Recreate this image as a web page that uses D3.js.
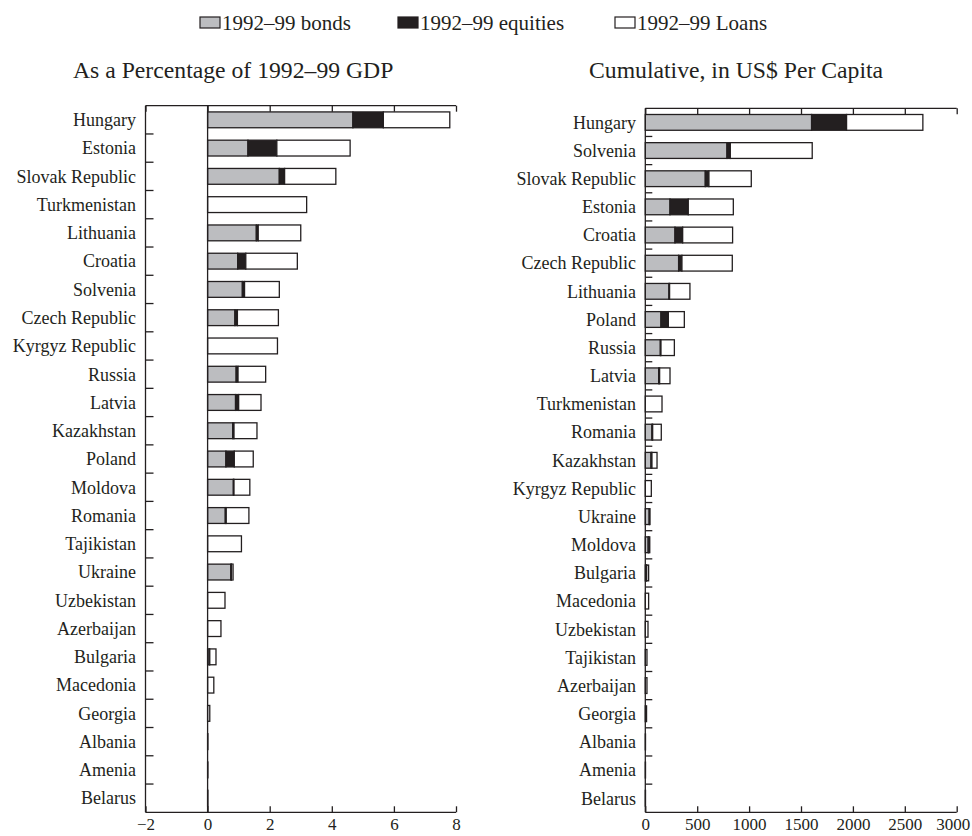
<!DOCTYPE html>
<html>
<head>
<meta charset="utf-8">
<script src="https://cdn.jsdelivr.net/npm/d3@7/dist/d3.min.js"></script>
<style>
  html, body { margin: 0; padding: 0; background: #fff; }
  svg { display: block; }
  text { font-family: "Liberation Serif", "Times New Roman", serif; fill: #231f20; }
</style>
</head>
<body>
<svg id="chart" width="972" height="836"></svg>
<script>
// ---------- DATA ----------
const seriesNames = ["1992\u201399 bonds", "1992\u201399 equities", "1992\u201399 Loans"];
const seriesColors = ["#bcbdc0", "#231f20", "#ffffff"];

// Panel 1: As a percentage of 1992-99 GDP
const gdpCountries = ["Hungary","Estonia","Slovak Republic","Turkmenistan","Lithuania","Croatia","Solvenia","Czech Republic","Kyrgyz Republic","Russia","Latvia","Kazakhstan","Poland","Moldova","Romania","Tajikistan","Ukraine","Uzbekistan","Azerbaijan","Bulgaria","Macedonia","Georgia","Albania","Amenia","Belarus"];
const gdpBonds    = [4.68,1.30,2.31,0,1.57,0.97,1.12,0.88,0,0.92,0.90,0.81,0.59,0.83,0.57,0,0.75,0,0,0.05,0,0,0,0,0];
const gdpEquities = [0.98,0.93,0.17,0,0.06,0.26,0.07,0.08,0,0.06,0.10,0.04,0.27,0.02,0.03,0,0.02,0,0,0.02,0,0,0,0,0];
const gdpLoans    = [2.14,2.36,1.65,3.19,1.37,1.66,1.12,1.32,2.25,0.89,0.72,0.74,0.61,0.51,0.73,1.09,0.05,0.56,0.43,0.20,0.20,0.07,0.01,0.01,0.01];
const gdpTicks = [-2,0,2,4,6,8];

// Panel 2: Cumulative, in US$ per capita
const pcCountries = ["Hungary","Solvenia","Slovak Republic","Estonia","Croatia","Czech Republic","Lithuania","Poland","Russia","Latvia","Turkmenistan","Romania","Kazakhstan","Kyrgyz Republic","Ukraine","Moldova","Bulgaria","Macedonia","Uzbekistan","Tajikistan","Azerbaijan","Georgia","Albania","Amenia","Belarus"];
const pcBonds    = [1602,787,578,238,286,321,228,151,145,129,0,64,55,0,38,28,10,0,0,0,0,0,0,0,0];
const pcEquities = [337,32,35,176,74,32,6,71,6,9,0,7,9,0,2,6,3,0,0,0,0,0,0,0,0];
const pcLoans    = [735,789,408,434,481,485,196,154,129,100,161,83,49,58,5,9,19,32,26,16,16,12,2,2,2];
const pcTicks = [0,500,1000,1500,2000,2500,3000];

// ---------- DRAW ----------
const svg = d3.select("#chart");
const ink = "#231f20";

// Legend
const legendItems = [
  {name: seriesNames[0], color: seriesColors[0], x: 200},
  {name: seriesNames[1], color: seriesColors[1], x: 398},
  {name: seriesNames[2], color: seriesColors[2], x: 615}
];
const lg = svg.append("g");
legendItems.forEach(it => {
  lg.append("rect").attr("x", it.x).attr("y", 17).attr("width", 20).attr("height", 11)
    .attr("fill", it.color).attr("stroke", ink).attr("stroke-width", 1.2);
  lg.append("text").attr("x", it.x + 22).attr("y", 30).attr("font-size", 21).text(it.name);
});

function drawPanel(cfg) {
  const g = svg.append("g");
  const x = d3.scaleLinear().domain(cfg.domain).range([cfg.x0, cfg.x1]);
  const y = d3.scaleBand().domain(cfg.countries).range([cfg.top, cfg.bottom]).paddingInner(0.44).paddingOuter(0.22);
  const rowH = (cfg.bottom - cfg.top) / cfg.countries.length;

  // Title
  g.append("text").attr("x", cfg.titleX).attr("y", 78).attr("font-size", 23.7).text(cfg.title);

  // stacked data
  const rows = cfg.countries.map((c, i) => ({country: c, vals: [cfg.bonds[i], cfg.equities[i], cfg.loans[i]]}));
  rows.forEach(r => {
    let acc = 0;
    r.segs = r.vals.map((v, k) => { const s = {k, start: acc, end: acc + v}; acc += v; return s; });
  });

  // bars
  const bars = g.append("g");
  rows.forEach(r => {
    r.segs.forEach(s => {
      if (s.end - s.start <= 0) return;
      bars.append("rect")
        .attr("x", x(s.start)).attr("y", y(r.country))
        .attr("width", Math.max(0, x(s.end) - x(s.start))).attr("height", y.bandwidth())
        .attr("fill", seriesColors[s.k]).attr("stroke", ink).attr("stroke-width", 1.3);
    });
  });

  // zero line (left panel only when domain includes negatives)
  if (cfg.domain[0] < 0) {
    g.append("line").attr("x1", x(0)).attr("x2", x(0)).attr("y1", cfg.top).attr("y2", cfg.bottom)
      .attr("stroke", ink).attr("stroke-width", 1.3);
  }

  // frame: top, left, bottom
  const frame = g.append("g").attr("stroke", ink).attr("stroke-width", 1.3).attr("fill", "none");
  frame.append("line").attr("x1", x(cfg.domain[0])).attr("x2", x(cfg.domain[1])).attr("y1", cfg.top).attr("y2", cfg.top);
  frame.append("line").attr("x1", x(cfg.domain[0])).attr("x2", x(cfg.domain[1])).attr("y1", cfg.bottom).attr("y2", cfg.bottom);
  frame.append("line").attr("x1", x(cfg.domain[0])).attr("x2", x(cfg.domain[0])).attr("y1", cfg.top).attr("y2", cfg.bottom);

  // bottom axis
  const bottomAxis = d3.axisBottom(x).tickValues(cfg.ticks).tickSizeInner(-6).tickSizeOuter(0).tickPadding(6)
    .tickFormat(cfg.fmt);
  const ba = g.append("g").attr("transform", `translate(0,${cfg.bottom})`).call(bottomAxis);
  ba.select(".domain").remove();
  ba.selectAll("line").attr("stroke", ink).attr("stroke-width", 1.3);
  ba.selectAll("text").attr("font-size", 17).attr("font-family", '"Liberation Serif", "Times New Roman", serif').attr("fill", ink);
  // keep the last label inside the page
  ba.selectAll(".tick").filter((d, i, n) => i === n.length - 1).select("text").attr("dx", cfg.lastDx);

  // top axis (ticks inward, no labels)
  const topAxis = d3.axisTop(x).tickValues(cfg.ticks).tickSizeInner(-6).tickSizeOuter(0).tickFormat("");
  const ta = g.append("g").attr("transform", `translate(0,${cfg.top})`).call(topAxis);
  ta.select(".domain").remove();
  ta.selectAll("line").attr("stroke", ink).attr("stroke-width", 1.3);

  // row separator ticks on left side
  const rt = g.append("g").attr("stroke", ink).attr("stroke-width", 1.3);
  cfg.countries.slice(1).forEach((c, i) => {
    const yy = cfg.top + rowH * (i + 1);
    rt.append("line").attr("x1", x(cfg.domain[0])).attr("x2", x(cfg.domain[0]) + cfg.rowTick).attr("y1", yy).attr("y2", yy);
  });

  // category labels
  g.append("g").selectAll("text").data(cfg.countries).join("text")
    .attr("x", cfg.labelX).attr("y", d => y(d) + y.bandwidth() / 2).attr("dy", "0.35em")
    .attr("text-anchor", "end").attr("font-size", 18).text(d => d);
}

drawPanel({
  title: "As a Percentage of 1992\u201399 GDP", titleX: 73,
  countries: gdpCountries, bonds: gdpBonds, equities: gdpEquities, loans: gdpLoans,
  domain: [-2, 8], x0: 145.5, x1: 456, top: 105.7, bottom: 812.3,
  ticks: gdpTicks, fmt: d3.format("d"), labelX: 136, rowTick: 8, lastDx: 0
});

drawPanel({
  title: "Cumulative, in US$ Per Capita", titleX: 589,
  countries: pcCountries, bonds: pcBonds, equities: pcEquities, loans: pcLoans,
  domain: [0, 3000], x0: 645.3, x1: 956.7, top: 108.3, bottom: 812.3,
  ticks: pcTicks, fmt: d3.format("d"), labelX: 636, rowTick: 7, lastDx: -4
});
</script>
</body>
</html>
